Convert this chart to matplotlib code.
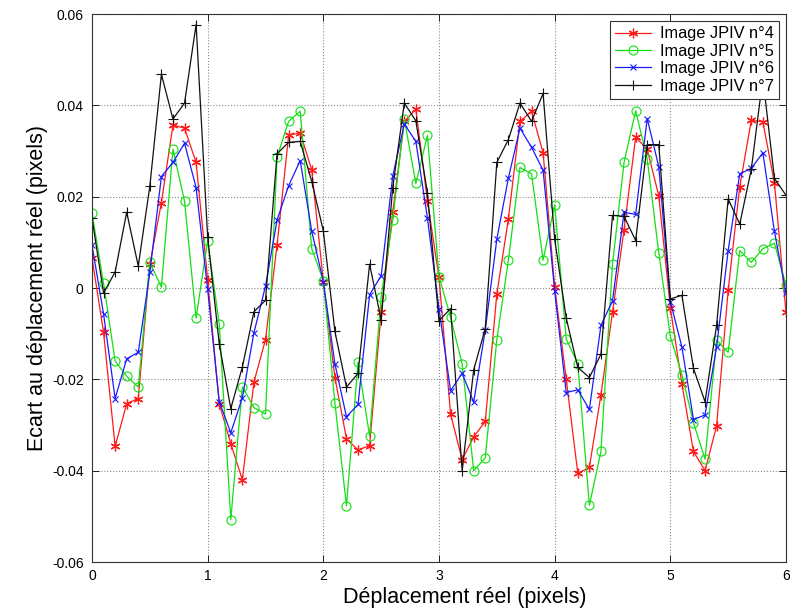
import matplotlib
matplotlib.use("Agg")
import matplotlib.pyplot as plt
import numpy as np

plt.rcParams['font.family'] = ['Liberation Sans', 'DejaVu Sans']

x = [round(0.1 * i, 1) for i in range(61)]

img4 = [0.0066, -0.0097, -0.0347, -0.0253, -0.0242, 0.0052, 0.0187, 0.0357, 0.0350, 0.0275,
        0.0018, -0.0253, -0.0341, -0.0420, -0.0206, -0.0113, 0.0094, 0.0334, 0.0340, 0.0258,
        0.0014, -0.0196, -0.0330, -0.0355, -0.0345, -0.0053, 0.0166, 0.0365, 0.0391, 0.0191,
        0.0023, -0.0276, -0.0376, -0.0326, -0.0292, -0.0013, 0.0151, 0.0365, 0.0387, 0.0296,
        0.0003, -0.0200, -0.0406, -0.0393, -0.0234, -0.0053, 0.0128, 0.0330, 0.0304, 0.0202,
        -0.0043, -0.0210, -0.0358, -0.0400, -0.0302, -0.0005, 0.0222, 0.0367, 0.0364, 0.0230,
        -0.0053]

img5 = [0.0164, 0.0010, -0.0160, -0.0193, -0.0217, 0.0056, 0.0002, 0.0304, 0.0190, -0.0066,
        0.0104, -0.0079, -0.0507, -0.0216, -0.0262, -0.0276, 0.0287, 0.0365, 0.0387, 0.0086,
        0.0016, -0.0252, -0.0477, -0.0162, -0.0324, -0.0019, 0.0149, 0.0370, 0.0229, 0.0334,
        0.0025, -0.0064, -0.0166, -0.0400, -0.0372, -0.0113, 0.0061, 0.0264, 0.0250, 0.0061,
        0.0182, -0.0112, -0.0166, -0.0476, -0.0358, 0.0052, 0.0275, 0.0388, 0.0283, 0.0077,
        -0.0106, -0.0190, -0.0295, -0.0375, -0.0114, -0.0141, 0.0082, 0.0056, 0.0086, 0.0098,
        0.0006]

img6 = [0.0094, -0.0057, -0.0242, -0.0155, -0.0141, 0.0034, 0.0244, 0.0275, 0.0317, 0.0220,
        -0.0003, -0.0249, -0.0317, -0.0240, -0.0098, 0.0004, 0.0149, 0.0224, 0.0279, 0.0124,
        0.0014, -0.0166, -0.0282, -0.0255, -0.0015, 0.0027, 0.0245, 0.0359, 0.0321, 0.0153,
        -0.0045, -0.0225, -0.0187, -0.0250, -0.0092, 0.0107, 0.0241, 0.0350, 0.0308, 0.0258,
        -0.0007, -0.0229, -0.0223, -0.0266, -0.0082, -0.0028, 0.0166, 0.0161, 0.0371, 0.0266,
        -0.0030, -0.0129, -0.0288, -0.0278, -0.0129, 0.0082, 0.0250, 0.0262, 0.0296, 0.0124,
        -0.0011]

img7 = [0.0153, -0.0011, 0.0035, 0.0166, 0.0048, 0.0223, 0.0468, 0.0370, 0.0405, 0.0577,
        0.0111, -0.0122, -0.0264, -0.0173, -0.0052, -0.0027, 0.0294, 0.0319, 0.0321, 0.0233,
        0.0125, -0.0095, -0.0217, -0.0187, 0.0052, -0.0070, 0.0220, 0.0405, 0.0366, 0.0208,
        -0.0072, -0.0045, -0.0400, -0.0179, -0.0089, 0.0275, 0.0325, 0.0405, 0.0365, 0.0426,
        0.0107, -0.0066, -0.0174, -0.0196, -0.0145, 0.0159, 0.0157, 0.0104, 0.0314, 0.0314,
        -0.0024, -0.0016, -0.0176, -0.0249, -0.0082, 0.0195, 0.0140, 0.0260, 0.0460, 0.0240,
        0.0203]

labels = ["Image JPIV n°4", "Image JPIV n°5", "Image JPIV n°6", "Image JPIV n°7"]
xticks = [0, 1, 2, 3, 4, 5, 6]
xticklabels = ["0", "1", "2", "3", "4", "5", "6"]
yticks = [-0.06, -0.04, -0.02, 0, 0.02, 0.04, 0.06]
yticklabels = ["-0.06", "-0.04", "-0.02", "0", "0.02", "0.04", "0.06"]

fig = plt.figure(figsize=(7.9, 6.14), dpi=100)
ax = fig.add_axes([92/790, (614-562)/614, 694/790, 548/614])

lw = 0.9
ax.plot(x, img4, '-', color='#ff1a1a', marker=(6, 2, 0), markersize=7, markeredgewidth=0.9, lw=lw, label=labels[0])
ax.plot(x, img5, '-', color='#11e011', marker='o', markersize=6.5, markerfacecolor='none', markeredgewidth=0.8, lw=lw, label=labels[1])
ax.plot(x, img6, '-', color='#1a1aff', marker='x', markersize=5, markeredgewidth=0.8, lw=lw, label=labels[2])
ax.plot(x, img7, '-', color='#111111', marker='+', markersize=7.5, markeredgewidth=0.8, lw=lw, label=labels[3])

ax.set_xlim(0, 6)
ax.set_ylim(-0.06, 0.06)
ax.set_xticks(xticks)
ax.set_xticklabels(xticklabels)
ax.set_yticks(yticks)
ax.set_yticklabels(yticklabels)
ax.tick_params(direction='in', top=True, right=True, length=5, width=0.7,
               labelsize=10, colors='#222222', labelcolor='black')
ax.tick_params(axis='x', pad=5)
ax.tick_params(axis='y', pad=6)
ax.grid(True, linestyle=':', color='#8a8a8a', linewidth=0.8)
ax.set_axisbelow(True)
for s in ax.spines.values():
    s.set_color('#333333')
    s.set_linewidth(0.8)

ax.set_xlabel("Déplacement réel (pixels)", fontsize=15.5)
ax.set_ylabel("Ecart au déplacement réel (pixels)", fontsize=15.5)
ax.xaxis.set_label_coords(0.537, -0.046)
ax.yaxis.set_label_coords(-0.064, 0.5)

leg = ax.legend(loc='upper right', fontsize=11.8, frameon=True, fancybox=False,
                edgecolor='#333333', framealpha=1, labelspacing=0.15,
                handlelength=2.2, handletextpad=0.55, borderpad=0.3,
                borderaxespad=0.45)
leg.get_frame().set_linewidth(0.8)

fig.savefig("out.png", dpi=100, facecolor='white')
